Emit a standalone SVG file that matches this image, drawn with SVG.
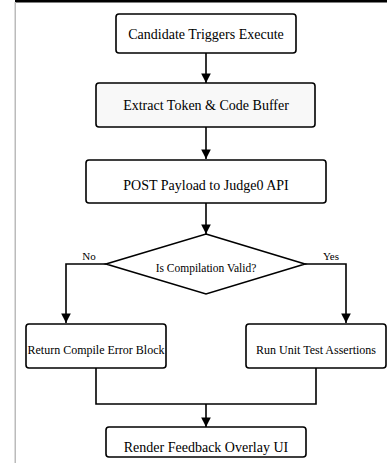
<svg xmlns="http://www.w3.org/2000/svg" width="387" height="463" viewBox="0 0 387 463">
<style>
.n{fill:#fff;stroke:#000;stroke-width:1.6}
.t{font-family:"Liberation Serif","Times New Roman",serif;font-size:14px;fill:#000;text-anchor:middle}
.m{font-size:12px}
.s{font-family:"Liberation Serif","Times New Roman",serif;font-size:11px;fill:#000;text-anchor:middle}
.c{fill:none;stroke:#000;stroke-width:1.6}
</style>
<defs>
<marker id="a" viewBox="0 0 10 10" refX="10" refY="5" markerWidth="6" markerHeight="6" orient="auto" markerUnits="strokeWidth">
<path d="M0,0L10,5L0,10z" fill="#000"/>
</marker>
</defs>
<rect x="0" y="0" width="387" height="463" fill="#fff"/>
<rect x="15" y="0" width="372" height="2.5" fill="#000"/>
<rect x="14.5" y="2" width="1.5" height="461" fill="#bbb"/>
<g id="connectors">
<path class="c" d="M206,53V83" marker-end="url(#a)"/>
<path class="c" d="M206,127V159" marker-end="url(#a)"/>
<path class="c" d="M206,203V234" marker-end="url(#a)"/>
<path class="c" d="M106,264H66V323" marker-end="url(#a)"/>
<path class="c" d="M305,264H346V323" marker-end="url(#a)"/>
<path class="c" d="M96,368V404H316V368"/>
<path class="c" d="M206,404V427" marker-end="url(#a)"/>
<text class="s" x="89" y="260">No</text>
<text class="s" x="331" y="260">Yes</text>
</g>
<g id="n1"><rect class="n" x="116" y="14" width="180" height="39" rx="3"/><text class="t" x="206" y="39">Candidate Triggers Execute</text></g>
<g id="n2"><rect class="n" x="96" y="83" width="219" height="44" rx="3" style="fill:#f8f8f8"/><text class="t" x="206" y="110">Extract Token &amp; Code Buffer</text></g>
<g id="n3"><rect class="n" x="86" y="160" width="240" height="43" rx="3"/><text class="t" x="206" y="190">POST Payload to Judge0 API</text></g>
<g id="n4"><path class="n" d="M206,234L305,264L206,294L106,264z"/><text class="t" x="206" y="272" style="font-size:11.5px">Is Compilation Valid?</text></g>
<g id="n5"><rect class="n" x="26" y="324" width="140" height="44" rx="3"/><text class="t m" x="96" y="354">Return Compile Error Block</text></g>
<g id="n6"><rect class="n" x="246" y="324" width="140" height="44" rx="3"/><text class="t m" x="316" y="354">Run Unit Test Assertions</text></g>
<g id="n7"><rect class="n" x="106" y="427" width="200" height="30" rx="3"/><text class="t" x="206" y="452">Render Feedback Overlay UI</text></g>
</svg>
